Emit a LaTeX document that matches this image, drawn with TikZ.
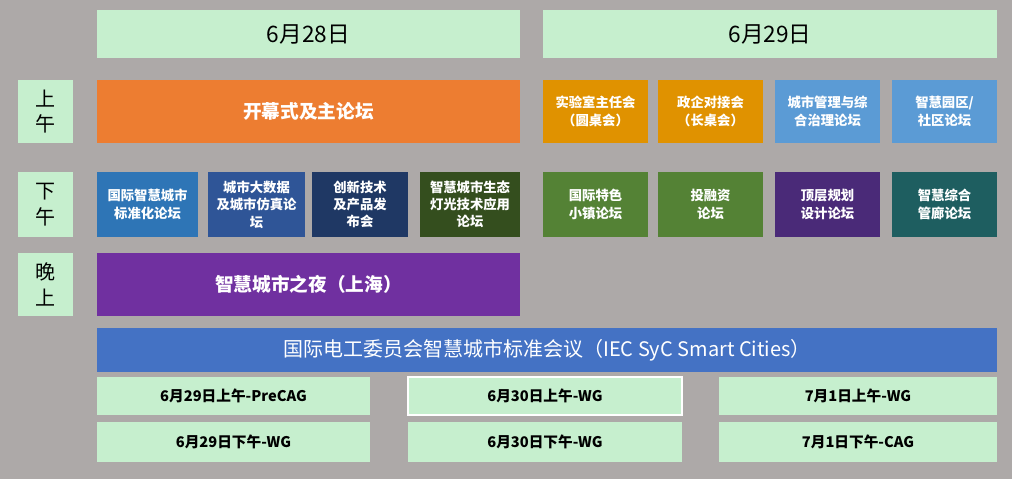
\documentclass[tikz,border=0pt]{standalone}
\usepackage{fontspec}
\setmainfont{Noto Sans CJK SC}
\begin{document}
\begin{tikzpicture}[x=0.75pt,y=-0.75pt,
  bx/.style={draw=none,inner sep=0pt,align=center,text=white,font=\bfseries\fontsize{10}{13}\selectfont},
  lg/.style={fill=lg,text=black}]
\definecolor{bg}{HTML}{ADA9A8}
\definecolor{lg}{HTML}{C6EFCE}
\path[fill=bg] (0,0) rectangle (1012,479);
\useasboundingbox (0,0) rectangle (1012,479);
\newcommand\bx[6]{\node[bx,#5,minimum width={(#2)*0.75pt},minimum height={(#4)*0.75pt}] (#6) at ({#1+#2/2},{#3+#4/2}) {#5text};}
% helper via explicit nodes
\newcommand\B[7]{\node[bx,fill=#5,minimum width={(#2)*0.75pt},minimum height={(#4)*0.75pt},#7] (#6) at ({#1+(#2)/2},{#3+(#4)/2})}
\B{97}{423}{10}{48}{lg}{d28}{text=black,font=\fontsize{17}{20}\selectfont} {6月28日};
\B{543}{454}{10}{48}{lg}{d29}{text=black,font=\fontsize{17}{20}\selectfont} {6月29日};
\B{18}{55}{80}{63}{lg}{am}{text=black,font=\fontsize{15}{19}\selectfont} {上\\午};
\B{18}{55}{172}{65}{lg}{pm}{text=black,font=\fontsize{15}{19}\selectfont} {下\\午};
\B{18}{55}{253}{63}{lg}{ev}{text=black,font=\fontsize{15}{19}\selectfont} {晚\\上};
\B{97}{423}{80}{63}{orange!80!red!90!white}{open}{fill={rgb,255:red,237;green,125;blue,49},font=\bfseries\fontsize{14}{17}\selectfont} {开幕式及主论坛};
\definecolor{dor}{HTML}{E09200}
\definecolor{lb}{HTML}{5B9BD5}
\B{543}{105}{80}{63}{dor}{a1}{} {实验室主任会\\（圆桌会）};
\B{658}{105}{80}{63}{dor}{a2}{} {政企对接会\\（长桌会）};
\B{775}{105}{80}{63}{lb}{a3}{} {城市管理与综\\合治理论坛};
\B{892}{105}{80}{63}{lb}{a4}{} {智慧园区/\\社区论坛};
\definecolor{c1}{HTML}{2E75B6}
\definecolor{c2}{HTML}{2F5597}
\definecolor{c3}{HTML}{1F3864}
\definecolor{c4}{HTML}{344E1E}
\definecolor{c5}{HTML}{548235}
\definecolor{c6}{HTML}{4A2A78}
\definecolor{c7}{HTML}{1E5E60}
\definecolor{pu}{HTML}{7030A0}
\definecolor{ib}{HTML}{4472C4}
\B{97}{101}{172}{65}{c1}{p1}{} {国际智慧城市\\标准化论坛};
\B{208}{97}{172}{65}{c2}{p2}{} {城市大数据\\及城市仿真论\\坛};
\B{312}{96}{172}{65}{c3}{p3}{} {创新技术\\及产品发\\布会};
\B{420}{100}{172}{65}{c4}{p4}{} {智慧城市生态\\灯光技术应用\\论坛};
\B{543}{105}{172}{65}{c5}{p5}{} {国际特色\\小镇论坛};
\B{658}{105}{172}{65}{c5}{p6}{} {投融资\\论坛};
\B{775}{105}{172}{65}{c6}{p7}{} {顶层规划\\设计论坛};
\B{892}{105}{172}{65}{c7}{p8}{} {智慧综合\\管廊论坛};
\B{97}{423}{253}{63}{pu}{night}{font=\bfseries\fontsize{14}{17}\selectfont} {智慧城市之夜（上海）};
\B{97}{900}{328}{44}{ib}{iec}{font=\fontsize{15}{18}\selectfont} {国际电工委员会智慧城市标准会议（IEC SyC Smart Cities）};
\tikzset{sm/.style={text=black,font=\bfseries\fontsize{11}{13}\selectfont}}
\B{97}{273}{377}{38}{lg}{r1}{sm} {6月29日上午-PreCAG};
\B{408}{274}{377}{38}{lg}{r2}{sm,draw=white,line width=1pt} {6月30日上午-WG};
\B{719}{278}{377}{38}{lg}{r3}{sm} {7月1日上午-WG};
\B{97}{273}{422}{40}{lg}{s1}{sm} {6月29日下午-WG};
\B{408}{274}{422}{40}{lg}{s2}{sm} {6月30日下午-WG};
\B{719}{278}{422}{40}{lg}{s3}{sm} {7月1日下午-CAG};
\end{tikzpicture}
\end{document}
